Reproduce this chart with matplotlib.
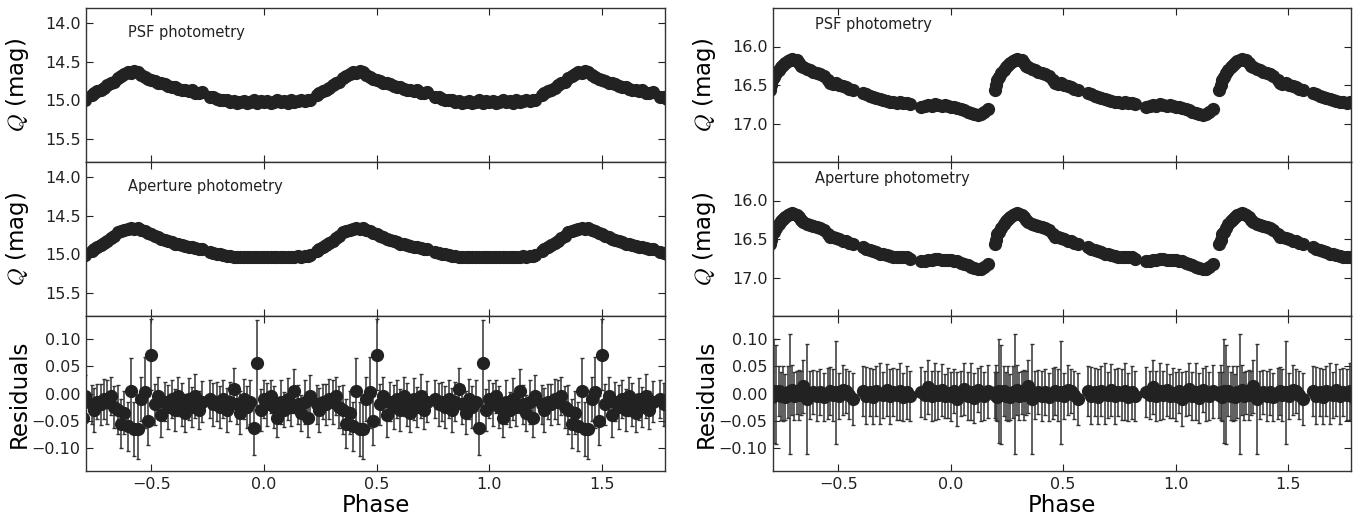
import numpy as np
import matplotlib
matplotlib.use("Agg")
import matplotlib.pyplot as plt

plt.rcParams['mathtext.fontset'] = 'cm'
plt.rcParams['font.family'] = ['DejaVu Sans']

# ---- left star: one folded cycle (phase 0..1) ----
left_phase = [0.000, 0.015, 0.030, 0.045, 0.060, 0.075, 0.090, 0.105, 0.120, 0.135, 0.150, 0.165, 0.180, 0.195, 0.205,
              0.235, 0.245, 0.260, 0.275, 0.290, 0.305, 0.320, 0.335, 0.350, 0.365, 0.380, 0.395, 0.410, 0.425, 0.440,
              0.455, 0.470, 0.485, 0.500, 0.515, 0.530, 0.545, 0.560, 0.575, 0.590, 0.605, 0.620, 0.635, 0.650, 0.665,
              0.680, 0.695, 0.710, 0.725, 0.760, 0.775, 0.790, 0.805, 0.820, 0.835, 0.850, 0.865, 0.880, 0.895, 0.910,
              0.925, 0.940, 0.955, 0.970, 0.985]
left_psf = [15.02, 15.01, 15.03, 15.02, 15.00, 15.02, 15.01, 15.03, 15.00, 15.02, 15.01, 14.99, 15.01, 15.00, 14.99,
            14.93, 14.91, 14.88, 14.86, 14.84, 14.80, 14.78, 14.76, 14.71, 14.68, 14.66, 14.63, 14.65, 14.62, 14.63,
            14.67, 14.70, 14.72, 14.73, 14.75, 14.77, 14.78, 14.79, 14.81, 14.82, 14.83, 14.85, 14.86, 14.86, 14.88,
            14.87, 14.90, 14.91, 14.89, 14.95, 14.96, 14.98, 14.99, 15.00, 15.00, 15.02, 15.01, 15.03, 15.02, 15.01,
            15.03, 15.02, 15.00, 15.03, 15.01]
left_ap = [15.03, 15.03, 15.04, 15.03, 15.03, 15.04, 15.03, 15.03, 15.04, 15.03, 15.02, 15.03, 15.02, 15.02, 15.01,
           14.96, 14.93, 14.90, 14.88, 14.85, 14.82, 14.79, 14.76, 14.71, 14.69, 14.68, 14.67, 14.66, 14.67, 14.66,
           14.68, 14.70, 14.72, 14.74, 14.76, 14.78, 14.80, 14.81, 14.83, 14.84, 14.86, 14.87, 14.88, 14.89, 14.90,
           14.91, 14.92, 14.93, 14.93, 14.97, 14.98, 14.99, 15.00, 15.01, 15.02, 15.02, 15.03, 15.03, 15.04, 15.03,
           15.04, 15.03, 15.04, 15.03, 15.03]
left_res = [-0.010, -0.020, -0.005, -0.025, -0.045, -0.015, -0.030, -0.010, -0.025, 0.005, -0.020, -0.035, -0.015, -0.045, -0.005,
            -0.020, -0.030, -0.015, -0.020, -0.010, -0.015, -0.005, -0.025, -0.030, -0.055, -0.035, -0.060, 0.005, -0.065, -0.065,
            -0.010, 0.002, -0.050, 0.071, -0.020, -0.005, -0.040, -0.015, -0.025, -0.010, -0.030, -0.005, -0.020, -0.035, -0.010,
            -0.025, -0.005, -0.030, -0.015, -0.010, -0.020, -0.015, -0.025, -0.010, -0.030, -0.015, 0.009, -0.020, -0.035, -0.010,
            -0.025, -0.015, -0.063, 0.055, -0.030]
left_res_err = [0.035, 0.040, 0.030, 0.038, 0.035, 0.040, 0.032, 0.038, 0.035, 0.040, 0.036, 0.033, 0.040, 0.035, 0.038,
                0.035, 0.040, 0.032, 0.038, 0.036, 0.040, 0.035, 0.038, 0.045, 0.045, 0.040, 0.045, 0.060, 0.050, 0.055,
                0.040, 0.065, 0.045, 0.065, 0.038, 0.035, 0.040, 0.036, 0.040, 0.035, 0.038, 0.036, 0.040, 0.035, 0.038,
                0.036, 0.040, 0.035, 0.038, 0.035, 0.040, 0.036, 0.038, 0.035, 0.040, 0.036, 0.038, 0.035, 0.040, 0.036,
                0.038, 0.040, 0.050, 0.080, 0.038]

# ---- right star: one folded cycle (phase 0..1) ----
right_phase = [0.000, 0.015, 0.030, 0.045, 0.060, 0.075, 0.090, 0.105, 0.120, 0.135, 0.150, 0.165,
               0.195, 0.200, 0.205, 0.215, 0.225, 0.235, 0.245, 0.255, 0.265, 0.275, 0.285, 0.295, 0.305, 0.315,
               0.325, 0.335, 0.345, 0.360, 0.375, 0.390, 0.405, 0.420, 0.435,
               0.455, 0.465, 0.475, 0.490, 0.505, 0.520, 0.535, 0.550, 0.565,
               0.610, 0.625, 0.640, 0.655, 0.670, 0.685, 0.700, 0.715, 0.730, 0.745, 0.760, 0.775, 0.790, 0.805, 0.820,
               0.870, 0.885, 0.900, 0.915, 0.930, 0.945, 0.960, 0.975, 0.990]
right_psf = [16.78, 16.79, 16.80, 16.81, 16.83, 16.85, 16.87, 16.88, 16.89, 16.88, 16.85, 16.81,
             16.56, 16.50, 16.43, 16.40, 16.35, 16.30, 16.27, 16.24, 16.21, 16.19, 16.17, 16.16, 16.17, 16.18,
             16.22, 16.25, 16.27, 16.29, 16.31, 16.33, 16.35, 16.36, 16.38,
             16.43, 16.47, 16.49, 16.48, 16.50, 16.51, 16.53, 16.55, 16.57,
             16.61, 16.62, 16.64, 16.65, 16.67, 16.68, 16.70, 16.71, 16.72, 16.72, 16.73, 16.72, 16.73, 16.74, 16.75,
             16.78, 16.77, 16.76, 16.77, 16.75, 16.76, 16.77, 16.76, 16.77]
right_ap = [16.77, 16.78, 16.79, 16.81, 16.82, 16.84, 16.86, 16.88, 16.89, 16.89, 16.86, 16.82,
            16.57, 16.51, 16.44, 16.41, 16.36, 16.31, 16.27, 16.24, 16.21, 16.19, 16.17, 16.16, 16.17, 16.19,
            16.22, 16.25, 16.28, 16.30, 16.32, 16.33, 16.35, 16.36, 16.38,
            16.44, 16.47, 16.48, 16.49, 16.50, 16.52, 16.53, 16.55, 16.57,
            16.61, 16.63, 16.64, 16.66, 16.67, 16.69, 16.70, 16.71, 16.72, 16.73, 16.73, 16.73, 16.74, 16.74, 16.76,
            16.79, 16.78, 16.77, 16.77, 16.76, 16.76, 16.77, 16.77, 16.77]
right_res = [-0.005, 0.005, -0.010, 0.000, 0.008, -0.005, 0.003, -0.008, 0.006, 0.000, -0.004, 0.004,
             -0.003, 0.002, -0.006, 0.004, -0.002, 0.005, -0.004, 0.000, -0.007, 0.003, -0.001, 0.006, -0.005, 0.002,
             -0.003, 0.001, 0.013, -0.010, -0.002, 0.003, -0.004, 0.002, -0.006,
             0.000, 0.004, -0.003, 0.002, -0.005, 0.006, 0.004, -0.002, -0.010,
             0.005, -0.004, 0.002, -0.006, 0.004, 0.000, -0.003, 0.006, -0.005, 0.003, -0.002, 0.004, -0.007, 0.002, -0.004,
             0.003, -0.002, 0.012, -0.005, 0.004, -0.003, 0.006, -0.004, 0.001]
right_res_err = [0.045, 0.040, 0.050, 0.042, 0.048, 0.044, 0.052, 0.046, 0.040, 0.050, 0.044, 0.048,
                 0.042, 0.050, 0.045, 0.095, 0.090, 0.046, 0.044, 0.050, 0.042, 0.048, 0.110, 0.046, 0.044, 0.040,
                 0.046, 0.040, 0.048, 0.100, 0.044, 0.040, 0.046, 0.042, 0.044,
                 0.046, 0.044, 0.048, 0.095, 0.042, 0.046, 0.040, 0.044, 0.048,
                 0.046, 0.052, 0.044, 0.050, 0.046, 0.055, 0.042, 0.048, 0.050, 0.044, 0.046, 0.052, 0.044, 0.048, 0.046,
                 0.046, 0.044, 0.050, 0.046, 0.052, 0.044, 0.048, 0.040, 0.046]

lc_err = 0.015
shifts = [-1, 0, 1]
xlim = (-0.79, 1.78)

W, H = 1369.0, 521.0
MK = '#222222'


def fold(phase, values, errs):
    ph = np.concatenate([np.asarray(phase) + s for s in shifts])
    v = np.tile(values, len(shifts))
    e = np.tile(errs, len(shifts)) if np.ndim(errs) else np.full(len(ph), errs)
    return ph, v, e


def style(ax, show_x):
    ax.set_xlim(*xlim)
    ax.tick_params(direction='in', top=True, right=True, length=5, width=0.8,
                   labelsize=11.5, colors='#222222', pad=4)
    ax.set_xticks([-0.5, 0.0, 0.5, 1.0, 1.5])
    if not show_x:
        ax.tick_params(labelbottom=False)
    for s in ax.spines.values():
        s.set_color('#333333')
        s.set_linewidth(1.0)


def panel(ax, phase, mag, err, ylim, yticks, label, ytxt):
    ph, v, e = fold(phase, mag, err)
    ax.errorbar(ph, v, yerr=e, fmt='o', ms=8.5, color=MK, ecolor='#333333',
                elinewidth=1, capsize=1.5, capthick=1)
    ax.set_ylim(*ylim)
    ax.set_yticks(yticks)
    ax.set_ylabel('$Q$ (mag)', fontsize=16.5)
    ax.text(0.073, ytxt, label, transform=ax.transAxes, fontsize=10.5,
            va='center', ha='left', color='#222222')
    style(ax, False)


def resid(ax, phase, res, err):
    ph, v, e = fold(phase, res, err)
    ax.errorbar(ph, v, yerr=e, fmt='o', ms=8.5, color=MK, ecolor='#333333',
                elinewidth=1.1, capsize=1.5, capthick=1)
    ax.set_ylim(-0.142, 0.142)
    ax.set_yticks([-0.10, -0.05, 0.0, 0.05, 0.10])
    ax.set_yticklabels(['\u22120.10', '\u22120.05', '0.00', '0.05', '0.10'])
    ax.set_ylabel('Residuals', fontsize=16.5)
    ax.set_xlabel('Phase', fontsize=16.5, labelpad=2)
    style(ax, True)
    ax.set_xticklabels(['\u22120.5', '0.0', '0.5', '1.0', '1.5'])


fig = plt.figure(figsize=(W / 100, H / 100), dpi=100)

cols = [(86, 579), (773, 578)]
rows = [(8, 162), (162, 316), (316, 471)]
axes = []
for x0, w in cols:
    col = []
    for y0, y1 in rows:
        col.append(fig.add_axes([x0 / W, 1 - y1 / H, w / W, (y1 - y0) / H]))
    axes.append(col)

panel(axes[0][0], left_phase, left_psf, lc_err, (15.8, 13.8), [14.0, 14.5, 15.0, 15.5], 'PSF photometry', 0.84)
panel(axes[0][1], left_phase, left_ap, lc_err, (15.8, 13.8), [14.0, 14.5, 15.0, 15.5], 'Aperture photometry', 0.84)
resid(axes[0][2], left_phase, left_res, left_res_err)

panel(axes[1][0], right_phase, right_psf, lc_err, (17.5, 15.5), [16.0, 16.5, 17.0], 'PSF photometry', 0.89)
panel(axes[1][1], right_phase, right_ap, lc_err, (17.5, 15.5), [16.0, 16.5, 17.0], 'Aperture photometry', 0.89)
resid(axes[1][2], right_phase, right_res, right_res_err)

for col in axes:
    for ax in col:
        ax.yaxis.set_label_coords(-0.095, 0.5)

fig.savefig('out.png', dpi=100)
